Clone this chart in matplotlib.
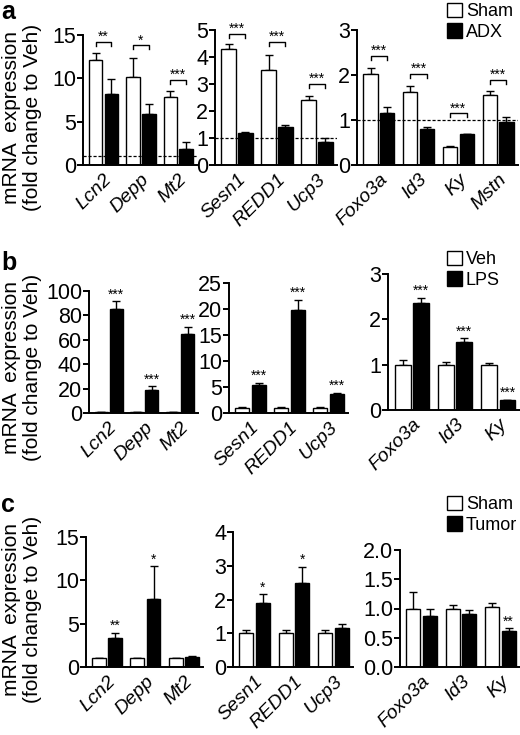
import numpy as np
import matplotlib
matplotlib.use("Agg")
import matplotlib.pyplot as plt
import matplotlib.transforms as mtransforms
from matplotlib.patches import Patch

plt.rcParams["font.family"] = ["Liberation Sans", "DejaVu Sans"]

# ============================================================
# Data
# ============================================================

# panel a : Sham vs ADX
A1_GENES = ["Lcn2", "Depp", "Mt2"]
A1_SHAM = [12.1, 10.2, 7.9]
A1_SHAM_ERR = [0.8, 2.2, 0.6]
A1_ADX = [8.2, 5.9, 1.9]
A1_ADX_ERR = [1.7, 1.1, 0.7]
A1_SIG = ["**", "*", "***"]
A1_BRACKET = [14.2, 13.8, 9.8]

A2_GENES = ["Sesn1", "REDD1", "Ucp3"]
A2_SHAM = [4.3, 3.52, 2.42]
A2_SHAM_ERR = [0.2, 0.55, 0.15]
A2_ADX = [1.2, 1.4, 0.86]
A2_ADX_ERR = [0.03, 0.1, 0.15]
A2_SIG = ["***", "***", "***"]
A2_BRACKET = [4.85, 4.55, 3.0]

A3_GENES = ["Foxo3a", "Id3", "Ky", "Mstn"]
A3_SHAM = [2.02, 1.63, 0.39, 1.56]
A3_SHAM_ERR = [0.14, 0.12, 0.04, 0.09]
A3_ADX = [1.15, 0.81, 0.68, 0.96]
A3_ADX_ERR = [0.14, 0.03, 0.02, 0.1]
A3_SIG = ["***", "***", "***", "***"]
A3_BRACKET = [2.42, 2.02, 1.15, 1.89]

# panel b : Veh vs LPS
B1_GENES = ["Lcn2", "Depp", "Mt2"]
B1_VEH = [1.0, 1.0, 1.0]
B1_VEH_ERR = [0.1, 0.1, 0.1]
B1_LPS = [85.0, 19.0, 65.0]
B1_LPS_ERR = [6.5, 2.8, 5.5]
B1_SIG = ["***", "***", "***"]

B2_GENES = ["Sesn1", "REDD1", "Ucp3"]
B2_VEH = [1.0, 1.0, 1.0]
B2_VEH_ERR = [0.08, 0.08, 0.08]
B2_LPS = [5.4, 19.8, 3.6]
B2_LPS_ERR = [0.4, 1.9, 0.2]
B2_SIG = ["***", "***", "***"]

B3_GENES = ["Foxo3a", "Id3", "Ky"]
B3_VEH = [1.0, 1.0, 1.0]
B3_VEH_ERR = [0.1, 0.06, 0.04]
B3_LPS = [2.35, 1.51, 0.22]
B3_LPS_ERR = [0.12, 0.07, 0.01]
B3_SIG = ["***", "***", "***"]

# panel c : Sham vs Tumor
C1_GENES = ["Lcn2", "Depp", "Mt2"]
C1_SHAM = [1.0, 1.0, 1.0]
C1_SHAM_ERR = [0.05, 0.08, 0.08]
C1_TUMOR = [3.3, 7.9, 1.15]
C1_TUMOR_ERR = [0.6, 3.7, 0.08]
C1_SIG = ["**", "*", ""]

C2_GENES = ["Sesn1", "REDD1", "Ucp3"]
C2_SHAM = [1.0, 1.0, 1.0]
C2_SHAM_ERR = [0.1, 0.1, 0.1]
C2_TUMOR = [1.9, 2.48, 1.15]
C2_TUMOR_ERR = [0.25, 0.48, 0.12]
C2_SIG = ["*", "*", ""]

C3_GENES = ["Foxo3a", "Id3", "Ky"]
C3_SHAM = [1.0, 1.0, 1.02]
C3_SHAM_ERR = [0.28, 0.06, 0.07]
C3_TUMOR = [0.88, 0.9, 0.62]
C3_TUMOR_ERR = [0.11, 0.08, 0.04]
C3_SIG = ["", "", "**"]

# ============================================================
# Layout helpers
# ============================================================

W_PX, H_PX = 520, 735
fig = plt.figure(figsize=(W_PX / 100, H_PX / 100), dpi=100)

YLABEL_1 = "mRNA  expression"
YLABEL_2 = "(fold change to Veh)"
OFF = 0.21
WIDTH = 0.36


def add_axes_px(left, right, top, bottom):
    return fig.add_axes([
        left / W_PX,
        1 - bottom / H_PX,
        (right - left) / W_PX,
        (bottom - top) / H_PX,
    ])


def draw_pairs(ax, genes, ctrl, ctrl_err, trt, trt_err, ymax, yticks,
               fmt="{:g}", dashed=False):
    x = np.arange(len(genes))

    ax.bar(x - OFF, ctrl, WIDTH, color="white", edgecolor="black", lw=1.0, zorder=2)
    ax.bar(x + OFF, trt, WIDTH, color="black", edgecolor="black", lw=1.0, zorder=2)

    for xs, vals, errs in [(x - OFF, ctrl, ctrl_err), (x + OFF, trt, trt_err)]:
        ax.errorbar(
            xs, vals,
            yerr=[np.zeros(len(vals)), errs],
            fmt="none", ecolor="black", elinewidth=1.0,
            capsize=3, capthick=1.0, zorder=1,
        )

    if dashed:
        ax.axhline(1.0, color="black", ls=(0, (2.5, 1.5)), lw=0.9, zorder=3)

    ax.set_xlim(-0.55, len(genes) - 0.5)
    ax.set_ylim(0, ymax)
    ax.set_yticks(yticks)
    ax.set_yticklabels([fmt.format(t) for t in yticks])

    ax.set_xticks(x)
    ax.set_xticklabels(genes, rotation=45, ha="right", va="top",
                       rotation_mode="anchor", style="italic", fontsize=14)
    shift = mtransforms.ScaledTranslation(11 / 100, 0, fig.dpi_scale_trans)
    for lab in ax.get_xticklabels():
        lab.set_transform(lab.get_transform() + shift)

    for side in ["top", "right"]:
        ax.spines[side].set_visible(False)
    ax.spines["left"].set_linewidth(1.4)
    ax.spines["bottom"].set_linewidth(1.4)
    ax.tick_params(axis="y", length=4, width=1.4, labelsize=15.5, pad=1)
    ax.tick_params(axis="x", length=0, pad=4)
    ax.set_facecolor("none")


def add_brackets(ax, heights, sigs, ymax):
    drop = 0.03 * ymax
    for i, (h, s) in enumerate(zip(heights, sigs)):
        x0, x1 = i - OFF, i + OFF
        ax.plot([x0, x0, x1, x1], [h - drop, h, h, h - drop],
                color="black", lw=1.0, clip_on=False)
        ax.annotate(s, (i, h), xytext=(0, -1.5), textcoords="offset points",
                    ha="center", va="bottom", fontsize=10)


def add_stars(ax, trt, trt_err, sigs):
    for i, (v, e, s) in enumerate(zip(trt, trt_err, sigs)):
        if s:
            ax.annotate(s, (i + OFF, v + e), xytext=(0, 0),
                        textcoords="offset points",
                        ha="center", va="bottom", fontsize=10)


def add_legend(labels, y_px):
    handles = [
        Patch(facecolor="white", edgecolor="black", lw=1.0),
        Patch(facecolor="black", edgecolor="black", lw=1.0),
    ]
    fig.legend(
        handles, labels,
        loc="upper left",
        bbox_to_anchor=(447 / W_PX, 1 - y_px / H_PX),
        frameon=False, fontsize=13,
        handlelength=0.85, handleheight=0.85, handletextpad=0.2,
        labelspacing=0.15, borderpad=0, borderaxespad=0,
    )


# ============================================================
# Panel a
# ============================================================

ax = add_axes_px(83, 197, 35, 165)
draw_pairs(ax, A1_GENES, A1_SHAM, A1_SHAM_ERR, A1_ADX, A1_ADX_ERR,
           15, [0, 5, 10, 15], dashed=True)
add_brackets(ax, A1_BRACKET, A1_SIG, 15)

ax = add_axes_px(215, 337, 30, 165)
draw_pairs(ax, A2_GENES, A2_SHAM, A2_SHAM_ERR, A2_ADX, A2_ADX_ERR,
           5, [0, 1, 2, 3, 4, 5], dashed=True)
add_brackets(ax, A2_BRACKET, A2_SIG, 5)

ax = add_axes_px(357, 518, 30, 165)
draw_pairs(ax, A3_GENES, A3_SHAM, A3_SHAM_ERR, A3_ADX, A3_ADX_ERR,
           3, [0, 1, 2, 3], dashed=True)
add_brackets(ax, A3_BRACKET, A3_SIG, 3)
add_legend(["Sham", "ADX"], 3)

# ============================================================
# Panel b
# ============================================================

ax = add_axes_px(89, 198, 291, 413)
draw_pairs(ax, B1_GENES, B1_VEH, B1_VEH_ERR, B1_LPS, B1_LPS_ERR,
           100, [0, 20, 40, 60, 80, 100])
add_stars(ax, B1_LPS, B1_LPS_ERR, B1_SIG)

ax = add_axes_px(229, 348, 283, 413)
draw_pairs(ax, B2_GENES, B2_VEH, B2_VEH_ERR, B2_LPS, B2_LPS_ERR,
           25, [0, 5, 10, 15, 20, 25])
add_stars(ax, B2_LPS, B2_LPS_ERR, B2_SIG)

ax = add_axes_px(388, 520, 274, 410)
draw_pairs(ax, B3_GENES, B3_VEH, B3_VEH_ERR, B3_LPS, B3_LPS_ERR,
           3, [0, 1, 2, 3])
add_stars(ax, B3_LPS, B3_LPS_ERR, B3_SIG)
add_legend(["Veh", "LPS"], 251)

# ============================================================
# Panel c
# ============================================================

ax = add_axes_px(86, 203, 537, 667)
draw_pairs(ax, C1_GENES, C1_SHAM, C1_SHAM_ERR, C1_TUMOR, C1_TUMOR_ERR,
           15, [0, 5, 10, 15])
add_stars(ax, C1_TUMOR, C1_TUMOR_ERR, C1_SIG)

ax = add_axes_px(233, 353, 532, 667)
draw_pairs(ax, C2_GENES, C2_SHAM, C2_SHAM_ERR, C2_TUMOR, C2_TUMOR_ERR,
           4, [0, 1, 2, 3, 4])
add_stars(ax, C2_TUMOR, C2_TUMOR_ERR, C2_SIG)

ax = add_axes_px(400, 520, 550, 667)
draw_pairs(ax, C3_GENES, C3_SHAM, C3_SHAM_ERR, C3_TUMOR, C3_TUMOR_ERR,
           2.0, [0.0, 0.5, 1.0, 1.5, 2.0], fmt="{:.1f}")
add_stars(ax, C3_TUMOR, C3_TUMOR_ERR, C3_SIG)
add_legend(["Sham", "Tumor"], 496)

# ============================================================
# Labels
# ============================================================

for letter, y_px in [("a", 0), ("b", 251), ("c", 493)]:
    fig.text(1 / W_PX, 1 - y_px / H_PX, letter, fontsize=18,
             fontweight="bold", ha="left", va="top")

for y_px in [117, 367, 609]:
    fig.text(12 / W_PX, 1 - y_px / H_PX, YLABEL_1, rotation=90, fontsize=15,
             ha="center", va="center")
    fig.text(33 / W_PX, 1 - y_px / H_PX, YLABEL_2, rotation=90, fontsize=15,
             ha="center", va="center")

fig.savefig("out.png", dpi=100)
